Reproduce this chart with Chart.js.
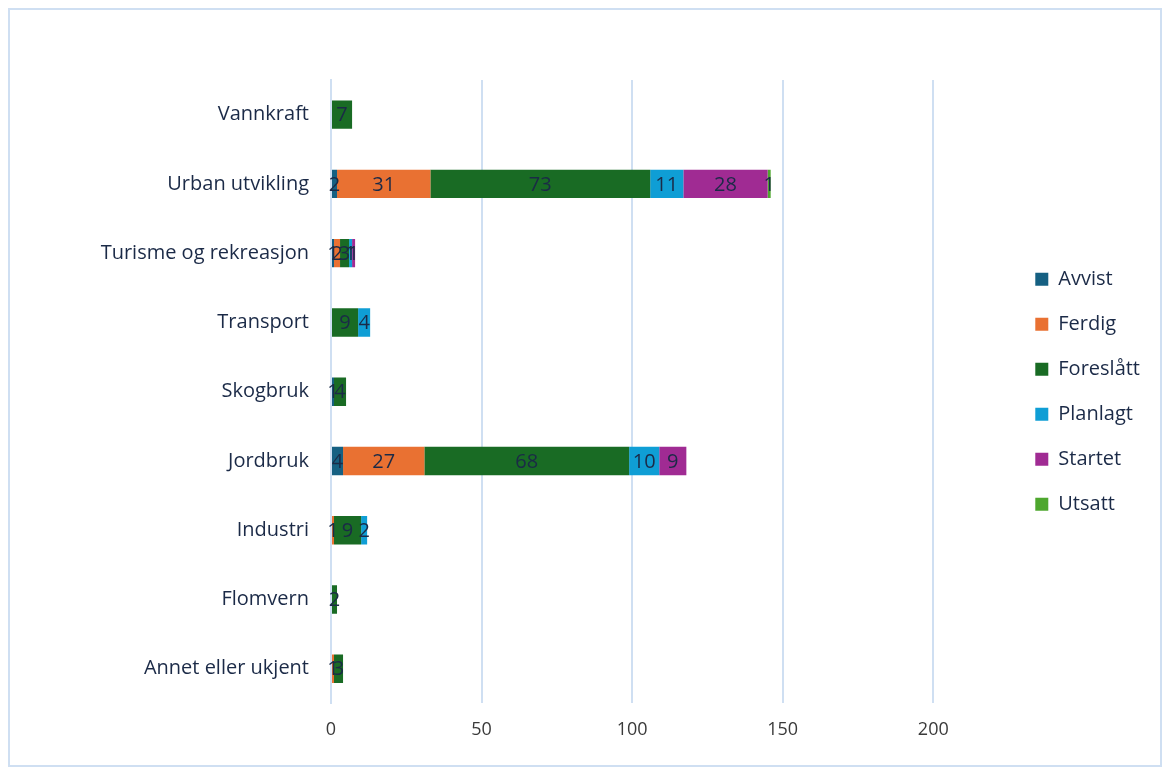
<!DOCTYPE html>
<html>
<head>
<meta charset="utf-8">
<script src="https://cdn.jsdelivr.net/npm/chart.js@4.4.1/dist/chart.umd.min.js"></script>
<style>
  html, body { margin: 0; padding: 0; background: #ffffff; }
  #frame { position: absolute; left: 8px; top: 8px; width: 1150px; height: 755px; border: 2px solid #cfdff2; }
  #wrap { position: relative; width: 1150px; height: 755px; }
</style>
</head>
<body>
<div id="frame"><div id="wrap"><canvas id="c"></canvas></div></div>
<script>
const categories = ["Vannkraft", "Urban utvikling", "Turisme og rekreasjon", "Transport", "Skogbruk", "Jordbruk", "Industri", "Flomvern", "Annet eller ukjent"];
const avvist    = [0, 2, 1, 0, 1, 4, 0, 0, 0];
const ferdig    = [0, 31, 2, 0, 0, 27, 1, 0, 1];
const foreslatt = [7, 73, 3, 9, 4, 68, 9, 2, 3];
const planlagt  = [0, 11, 1, 4, 0, 10, 2, 0, 0];
const startet   = [0, 28, 1, 0, 0, 9, 0, 0, 0];
const utsatt    = [0, 1, 0, 0, 0, 0, 0, 0, 0];
const xTicks = [0, 50, 100, 150, 200];

const FONT = "'Open Sans', Lato, sans-serif";
const TEXT = "#1b2a47";

const toNull = a => a.map(v => v === 0 ? null : v);

const labelPlugin = {
  id: 'barLabels',
  afterDatasetsDraw(chart) {
    const ctx = chart.ctx;
    ctx.save();
    ctx.font = "20px " + FONT;
    ctx.fillStyle = TEXT;
    ctx.textAlign = 'center';
    ctx.textBaseline = 'middle';
    chart.data.datasets.forEach((ds, i) => {
      const meta = chart.getDatasetMeta(i);
      if (meta.hidden) return;
      meta.data.forEach((el, j) => {
        const v = ds.data[j];
        if (v === null || v === 0) return;
        const p = el.getCenterPoint();
        ctx.fillText(String(v), p.x, p.y + 1);
      });
    });
    ctx.restore();
  }
};

new Chart(document.getElementById('c'), {
  type: 'bar',
  data: {
    labels: categories,
    datasets: [
      { label: 'Avvist', data: toNull(avvist), backgroundColor: '#156082' },
      { label: 'Ferdig', data: toNull(ferdig), backgroundColor: '#E97132' },
      { label: 'Foreslått', data: toNull(foreslatt), backgroundColor: '#196B24' },
      { label: 'Planlagt', data: toNull(planlagt), backgroundColor: '#0F9ED5' },
      { label: 'Startet', data: toNull(startet), backgroundColor: '#A02B93' },
      { label: 'Utsatt', data: toNull(utsatt), backgroundColor: '#4EA72E' }
    ]
  },
  options: {
    indexAxis: 'y',
    responsive: true,
    maintainAspectRatio: false,
    animation: false,
    layout: { padding: { top: 70, bottom: 8, left: 0, right: 10 } },
    datasets: { bar: { categoryPercentage: 1, barPercentage: 0.41, borderWidth: 0 } },
    scales: {
      x: {
        stacked: true,
        min: 0, max: 200,
        afterBuildTicks(scale) { scale.ticks = xTicks.map(v => ({ value: v })); },
        grid: { color: '#cfdff2', lineWidth: 2, drawTicks: false },
        border: { display: false },
        ticks: { color: '#3a3a3a', font: { family: FONT, size: 18 }, padding: 16 }
      },
      y: {
        stacked: true,
        afterFit(scale) { scale.width = 321; },
        grid: { display: false },
        border: { color: '#cfdff2', width: 2 },
        ticks: { color: TEXT, font: { family: FONT, size: 20 }, padding: 14 }
      },
      y2: {
        type: 'linear',
        axis: 'y',
        position: 'right',
        min: 0, max: 1,
        afterFit(scale) { scale.width = 77; },
        grid: { display: false, drawOnChartArea: false },
        border: { display: false },
        ticks: { display: false }
      }
    },
    plugins: {
      legend: {
        position: 'right',
        align: 'center',
        fullSize: false,
        labels: {
          color: TEXT,
          font: { family: FONT, size: 20 },
          boxWidth: 13, boxHeight: 13,
          padding: 25
        }
      },
      tooltip: { enabled: false }
    }
  },
  plugins: [labelPlugin]
});
</script>
</body>
</html>
